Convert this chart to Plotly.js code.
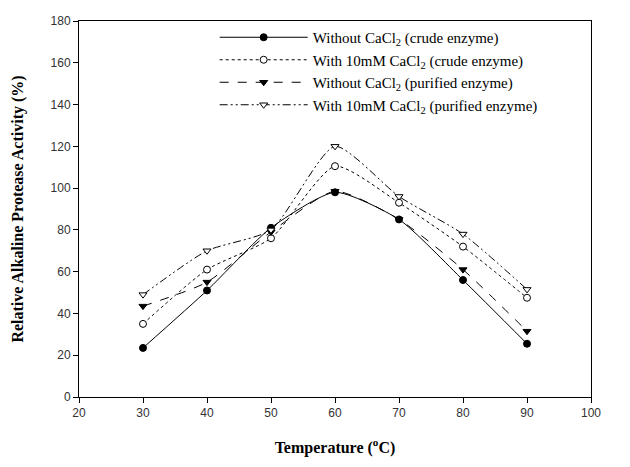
<!DOCTYPE html>
<html>
<head>
<meta charset="utf-8">
<script src="https://cdn.plot.ly/plotly-3.0.1.min.js"></script>
<style>html,body{margin:0;padding:0;background:#fff;}#chart{width:630px;height:467px;}</style>
</head>
<body>
<div id="chart"></div>
<script>
var temperature = [30, 40, 50, 60, 70, 80, 90];
var crudeWithout = [23.5, 51, 81, 98, 85, 56, 25.5];
var crudeWith = [35, 61, 76, 110.5, 93, 72, 47.5];
var purifiedWithout = [43.5, 55, 79, 98.5, 85, 61, 31.5];
var purifiedWith = [49, 70, 80, 120, 96, 78, 51.5];
var seriesNames = [
  'Without CaCl<sub>2</sub> (crude enzyme)',
  'With 10mM CaCl<sub>2</sub> (crude enzyme)',
  'Without CaCl<sub>2</sub> (purified enzyme)',
  'With 10mM CaCl<sub>2</sub> (purified enzyme)'
];
var xTicks = [20, 30, 40, 50, 60, 70, 80, 90, 100];
var yTicks = [0, 20, 40, 60, 80, 100, 120, 140, 160, 180];

function tr(y, name, dash, symbol, fill) {
  return {
    x: temperature, y: y, name: name, type: 'scatter', mode: 'lines+markers',
    line: {color: '#000', width: 1, dash: dash, shape: 'spline', smoothing: 0.6},
    marker: {symbol: symbol, size: 7, color: fill, line: {color: '#000', width: 1}}
  };
}
var data = [
  tr(crudeWithout, seriesNames[0], 'solid', 'circle', '#000'),
  tr(crudeWith, seriesNames[1], 'dot', 'circle', '#fff'),
  tr(purifiedWithout, seriesNames[2], 'dash', 'triangle-down', '#000'),
  tr(purifiedWith, seriesNames[3], '8px,3px,2px,3px,2px,3px', 'triangle-down', '#fff')
];
var axisFont = {family: 'Liberation Sans, Arial, sans-serif', size: 12, color: '#333'};
var serif = 'Liberation Serif, Times New Roman, serif';
var layout = {
  width: 630, height: 467,
  margin: {l: 79, r: 39, t: 21, b: 70},
  paper_bgcolor: '#fff', plot_bgcolor: '#fff',
  showlegend: true,
  legend: {x: 0.265, y: 1.0, xanchor: 'left', yanchor: 'top', bgcolor: 'rgba(0,0,0,0)',
           font: {family: serif, size: 15, color: '#000'},
           itemwidth: 88, tracegroupgap: 0},
  xaxis: {
    range: [20, 100], tickvals: xTicks, ticks: 'outside', ticklen: 5, tickcolor: '#000',
    showline: true, linecolor: '#000', linewidth: 1, mirror: true, showgrid: false, zeroline: false,
    tickfont: axisFont,
    title: {text: 'Temperature (<sup>o</sup>C)', standoff: 22,
            font: {family: serif, size: 16, color: '#000', weight: 'bold'}}
  },
  yaxis: {
    range: [0, 180], tickvals: yTicks, ticks: 'outside', ticklen: 5, tickcolor: '#000',
    showline: true, linecolor: '#000', linewidth: 1, mirror: true, showgrid: false, zeroline: false,
    tickfont: axisFont,
    title: {text: 'Relative Alkaline Protease Activity (%)', standoff: 22,
            font: {family: serif, size: 16, color: '#000', weight: 'bold'}}
  }
};
Plotly.newPlot('chart', data, layout, {displayModeBar: false, staticPlot: true});
</script>
</body>
</html>
